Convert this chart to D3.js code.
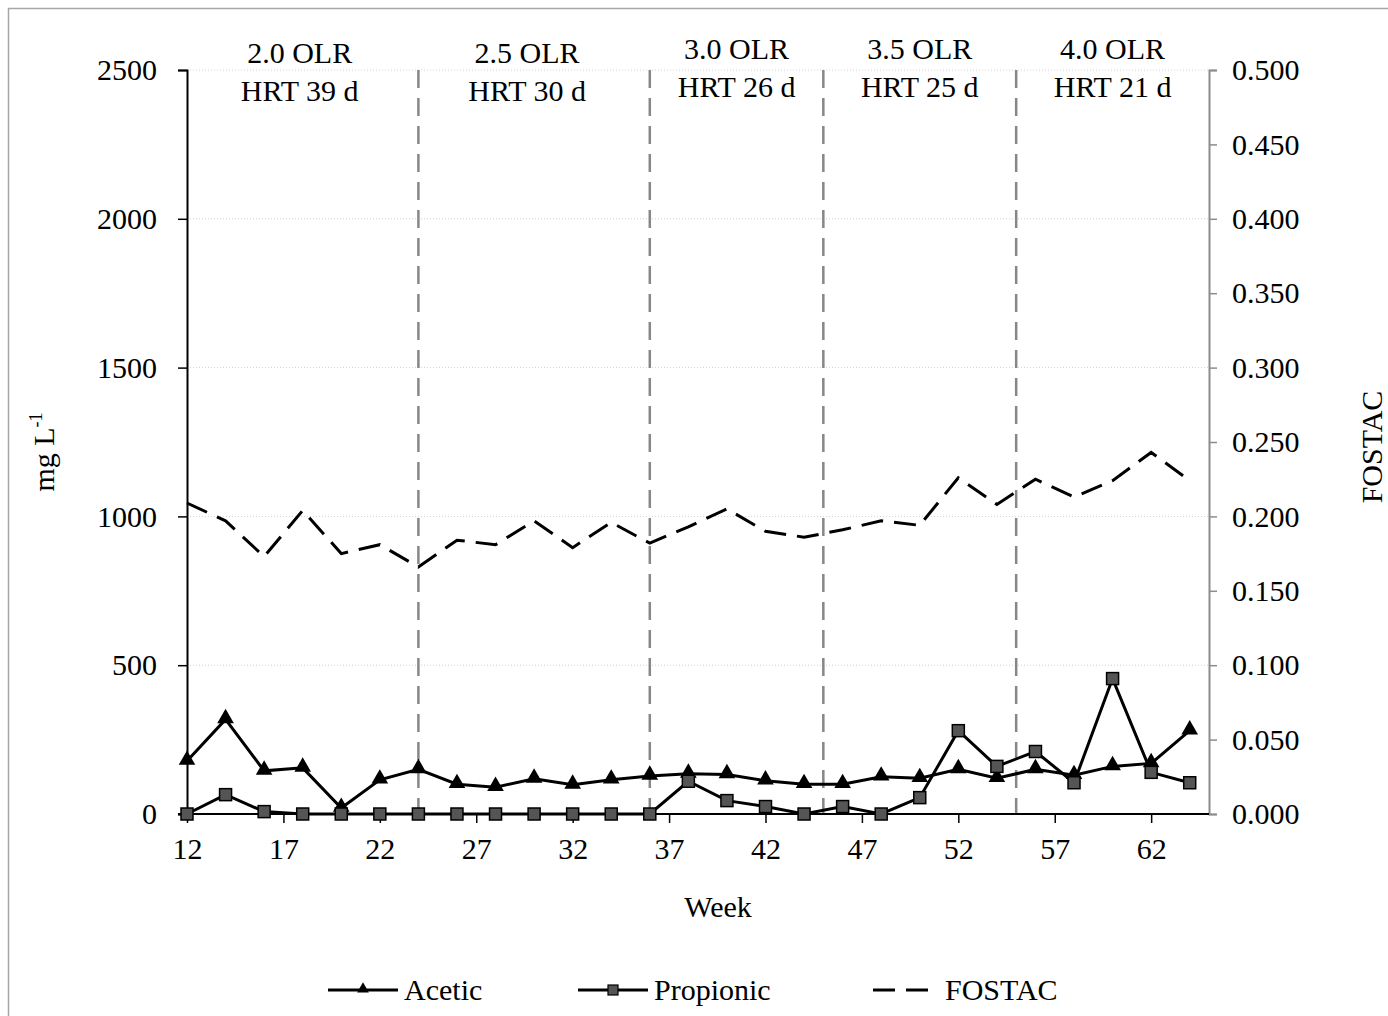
<!DOCTYPE html>
<html>
<head>
<meta charset="utf-8">
<script src="https://cdn.jsdelivr.net/npm/d3@7"></script>
<style>
  html, body { margin: 0; padding: 0; background: #fff; }
  svg { display: block; font-family: "Liberation Serif", "Times New Roman", serif; }
</style>
</head>
<body>
<svg id="chart" width="1388" height="1016"></svg>
<script>
// Sampling weeks
const weeks = [12, 14, 16, 18, 20, 22, 24, 26, 28, 30, 32, 34, 36, 38, 40, 42, 44, 46, 48, 50, 52, 54, 56, 58, 60, 62, 64];
// Volatile fatty acids, mg/L
const acetic = [178, 318, 145, 155, 20, 115, 150, 100, 90, 118, 98, 115, 128, 135, 133, 112, 100, 100, 125, 120, 150, 120, 150, 130, 160, 170, 280];
const propionic = [0, 65, 8, 0, 0, 0, 0, 0, 0, 0, 0, 0, 0, 110, 45, 25, 0, 25, 0, 55, 280, 160, 210, 105, 455, 140, 105];
// FOS/TAC ratio (right axis)
const fostac = [0.209, 0.197, 0.173, 0.204, 0.175, 0.181, 0.166, 0.184, 0.181, 0.197, 0.179, 0.196, 0.182, 0.193, 0.205, 0.190, 0.186, 0.191, 0.197, 0.194, 0.226, 0.208, 0.225, 0.213, 0.224, 0.243, 0.224];

// Operating phases: boundaries (weeks) and labels
const phaseBounds = [12, 24, 36, 45, 55, 65];
const phaseOLR = ["2.0 OLR", "2.5 OLR", "3.0 OLR", "3.5 OLR", "4.0 OLR"];
const phaseHRT = ["HRT 39 d", "HRT 30 d", "HRT 26 d", "HRT 25 d", "HRT 21 d"];

const xTicks = [12, 17, 22, 27, 32, 37, 42, 47, 52, 57, 62];
const yLeftTicks = [0, 500, 1000, 1500, 2000, 2500];
const yRightTicks = [0, 0.05, 0.1, 0.15, 0.2, 0.25, 0.3, 0.35, 0.4, 0.45, 0.5];

(function draw() {
  const svg = d3.select("#chart");
  const pL = 187, pR = 1209, pT = 70, pB = 814;
  const fontSize = 30;

  // Outer frame (runs past the right and bottom edges)
  svg.append("rect").attr("x", 8.5).attr("y", 8.5).attr("width", 1400).attr("height", 1020)
    .attr("fill", "none").attr("stroke", "#a6a6a6").attr("stroke-width", 1.5);

  const x = d3.scaleLinear().domain([12, 65]).range([pL, pR]);
  const yL = d3.scaleLinear().domain([0, 2500]).range([pB, pT]);
  const yR = d3.scaleLinear().domain([0, 0.5]).range([pB, pT]);

  // Horizontal gridlines
  svg.append("g").selectAll("line").data(yLeftTicks.filter(d => d > 0)).join("line")
    .attr("x1", pL).attr("x2", pR)
    .attr("y1", d => yL(d)).attr("y2", d => yL(d))
    .attr("stroke", "#d0d0d0").attr("stroke-width", 1).attr("stroke-dasharray", "1,2");

  // Phase dividers
  svg.append("g").selectAll("line").data(phaseBounds.slice(1, -1)).join("line")
    .attr("x1", d => x(d)).attr("x2", d => x(d))
    .attr("y1", pT).attr("y2", pB)
    .attr("stroke", "#878787").attr("stroke-width", 2.5).attr("stroke-dasharray", "18,10");

  // Phase labels
  const phases = phaseOLR.map((t, i) => ({ olr: t, hrt: phaseHRT[i], a: phaseBounds[i], b: phaseBounds[i + 1] }));
  const pl = svg.append("g").attr("font-size", fontSize).attr("text-anchor", "middle").attr("fill", "#000");
  const cx = (d, i) => (x(d.a) + x(d.b)) / 2 - (i === 0 ? 3 : i === 1 ? 7 : 0);
  pl.selectAll("text.olr").data(phases).join("text").attr("class", "olr")
    .attr("x", cx).attr("y", (d, i) => i < 2 ? 63 : 59).text(d => d.olr);
  pl.selectAll("text.hrt").data(phases).join("text").attr("class", "hrt")
    .attr("x", cx).attr("y", (d, i) => i < 2 ? 101 : 97).text(d => d.hrt);

  // Left axis
  const gL = svg.append("g").attr("transform", `translate(${pL},0)`)
    .call(d3.axisLeft(yL).tickValues(yLeftTicks).tickSize(9).tickPadding(21).tickFormat(d3.format("d")));
  gL.select(".domain").attr("stroke", "#000").attr("stroke-width", 2);
  gL.selectAll(".tick line").attr("stroke", "#000").attr("stroke-width", 1.5);
  gL.selectAll(".tick text").attr("font-size", fontSize).attr("font-family", "Liberation Serif").attr("fill", "#000");

  // Right axis
  const gR = svg.append("g").attr("transform", `translate(${pR},0)`)
    .call(d3.axisRight(yR).tickValues(yRightTicks).tickSize(8).tickPadding(15).tickFormat(d3.format(".3f")));
  gR.select(".domain").attr("stroke", "#8c8c8c").attr("stroke-width", 2);
  gR.selectAll(".tick line").attr("stroke", "#8c8c8c").attr("stroke-width", 1.5);
  gR.selectAll(".tick text").attr("font-size", fontSize).attr("font-family", "Liberation Serif").attr("fill", "#000");

  // Bottom axis
  const gB = svg.append("g").attr("transform", `translate(0,${pB})`)
    .call(d3.axisBottom(x).tickValues(xTicks).tickSize(9).tickSizeOuter(0).tickPadding(15).tickFormat(d3.format("d")));
  gB.select(".domain").attr("stroke", "#000").attr("stroke-width", 2).attr("d", `M${pL - 9},0H${pR}`);
  gB.selectAll(".tick line").attr("stroke", "#000").attr("stroke-width", 1.5);
  gB.selectAll(".tick text").attr("font-size", fontSize).attr("font-family", "Liberation Serif").attr("fill", "#000");

  // Axis titles
  svg.append("text").attr("x", 718).attr("y", 917).attr("text-anchor", "middle")
    .attr("font-size", fontSize).text("Week");
  const yt = svg.append("text").attr("transform", "translate(54,452) rotate(-90)")
    .attr("text-anchor", "middle").attr("font-size", fontSize);
  yt.append("tspan").text("mg L");
  yt.append("tspan").attr("dy", -12).attr("font-size", 18).text("-1");
  svg.append("text").attr("transform", "translate(1382,447) rotate(-90)")
    .attr("text-anchor", "middle").attr("font-size", fontSize).text("FOSTAC");

  // FOSTAC dashed line
  svg.append("path").datum(weeks.map((w, i) => [w, fostac[i]]))
    .attr("fill", "none").attr("stroke", "#000").attr("stroke-width", 3)
    .attr("stroke-dasharray", "22,11")
    .attr("d", d3.line().x(d => x(d[0])).y(d => yR(d[1])));

  // Acetic
  const aceticPts = weeks.map((w, i) => [w, acetic[i]]);
  svg.append("path").datum(aceticPts)
    .attr("fill", "none").attr("stroke", "#000").attr("stroke-width", 3)
    .attr("d", d3.line().x(d => x(d[0])).y(d => yL(d[1])));
  const tri = d3.symbol().type(d3.symbolTriangle).size(120);
  svg.append("g").selectAll("path").data(aceticPts).join("path")
    .attr("transform", d => `translate(${x(d[0])},${yL(d[1]) - 1})`)
    .attr("d", tri()).attr("fill", "#000");

  // Propionic
  const propPts = weeks.map((w, i) => [w, propionic[i]]);
  svg.append("path").datum(propPts)
    .attr("fill", "none").attr("stroke", "#000").attr("stroke-width", 3)
    .attr("d", d3.line().x(d => x(d[0])).y(d => yL(d[1])));
  svg.append("g").selectAll("rect").data(propPts).join("rect")
    .attr("x", d => x(d[0]) - 6).attr("y", d => yL(d[1]) - 6)
    .attr("width", 12).attr("height", 12)
    .attr("fill", "#555").attr("stroke", "#000").attr("stroke-width", 1.5);

  // Legend
  const lg = svg.append("g").attr("font-size", fontSize);
  const ly = 990;
  lg.append("line").attr("x1", 328).attr("x2", 398).attr("y1", ly).attr("y2", ly).attr("stroke", "#000").attr("stroke-width", 3);
  lg.append("path").attr("transform", `translate(363,${ly - 1})`).attr("d", d3.symbol().type(d3.symbolTriangle).size(60)()).attr("fill", "#000");
  lg.append("text").attr("x", 404).attr("y", ly + 10).text("Acetic");
  lg.append("line").attr("x1", 578).attr("x2", 648).attr("y1", ly).attr("y2", ly).attr("stroke", "#000").attr("stroke-width", 3);
  lg.append("rect").attr("x", 608).attr("y", ly - 5).attr("width", 10).attr("height", 10).attr("fill", "#555").attr("stroke", "#000").attr("stroke-width", 1.2);
  lg.append("text").attr("x", 654).attr("y", ly + 10).text("Propionic");
  lg.append("line").attr("x1", 873).attr("x2", 937).attr("y1", ly).attr("y2", ly).attr("stroke", "#000").attr("stroke-width", 3).attr("stroke-dasharray", "22,11");
  lg.append("text").attr("x", 945).attr("y", ly + 10).text("FOSTAC");
})();
</script>
</body>
</html>
